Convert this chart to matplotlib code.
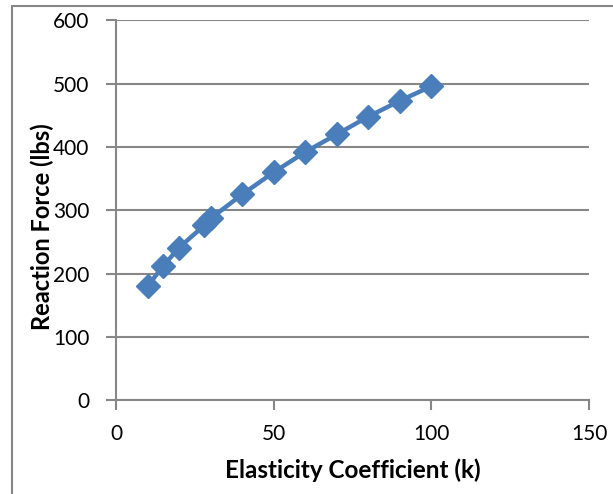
import matplotlib
matplotlib.use("Agg")
import matplotlib.pyplot as plt
from matplotlib.patches import Rectangle

# data
k_values = [10, 15, 20, 28, 30, 40, 50, 60, 70, 80, 90, 100]
force_lbs = [180, 212, 241, 276, 287, 325, 360, 392, 420, 448, 473, 496]
x_ticks = [0, 50, 100, 150]
y_ticks = [0, 100, 200, 300, 400, 500, 600]

grey = "#878787"
blue = "#4A7EBB"

plt.rcParams['font.family'] = ['Lato', 'DejaVu Sans']

fig = plt.figure(figsize=(6.13, 4.94), dpi=100)
# outer chart border (left/top visible only)
fig.patches.append(Rectangle((12 / 613, -0.1), 1.2, (494 - 6) / 494 + 0.1,
                             transform=fig.transFigure, fill=False,
                             edgecolor=grey, linewidth=1.5))

ax = fig.add_axes([116 / 613, 94 / 494, 473 / 613, 379.5 / 494])
ax.plot(k_values, force_lbs, color=blue, linewidth=3.2, marker='D',
        markersize=12.5, markerfacecolor=blue, markeredgecolor=blue, zorder=3)

ax.set_xlim(0, 150)
ax.set_ylim(0, 600)
ax.set_xticks(x_ticks)
ax.set_yticks(y_ticks)
ax.yaxis.grid(True, color=grey, linewidth=1.5)
ax.set_axisbelow(True)

for s in ['top', 'right']:
    ax.spines[s].set_visible(False)
for s in ['left', 'bottom']:
    ax.spines[s].set_color(grey)
    ax.spines[s].set_linewidth(1.5)

ax.tick_params(axis='both', direction='out', length=7, width=1.5, color=grey,
               labelsize=15, labelcolor='black')
ax.tick_params(axis='y', pad=12)
ax.tick_params(axis='x', pad=10)

ax.set_xlabel("Elasticity Coefficient (k)", fontsize=17.5, fontweight='bold', va='center')
ax.set_ylabel("Reaction Force (lbs)", fontsize=17, fontweight='bold', va='center')
ax.xaxis.set_label_coords(0.501, -0.184)
ax.yaxis.set_label_coords(-0.156, 0.458)

fig.savefig("out.png", dpi=100)
